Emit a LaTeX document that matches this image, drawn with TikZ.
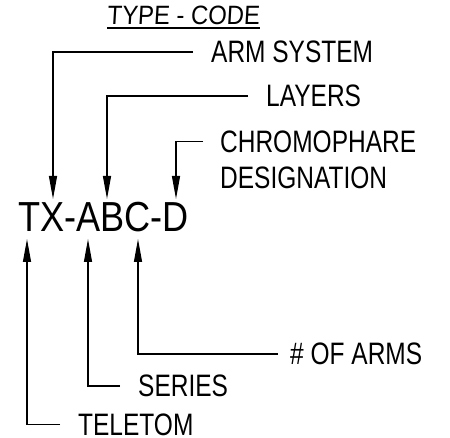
\documentclass[tikz,border=0pt]{standalone}
\usepackage{fontspec}
\usetikzlibrary{arrows.meta}
\newfontfamily\cadfont[FakeStretch=0.79]{Liberation Sans}
\newfontfamily\bigcadfont[FakeStretch=0.86]{Liberation Sans}
\newfontfamily\titlecadfont[FakeStretch=0.9,FakeSlant=0.06]{Liberation Sans}
\tikzset{
  lbl/.style={font=\cadfont\fontsize{31pt}{37pt}\selectfont, anchor=west, inner ysep=0pt, inner xsep=18pt, text depth=0pt},
  arr/.style={-{Triangle[length=23pt,width=8pt]}, line width=1.2pt},
}
\begin{document}
\begin{tikzpicture}[x=1pt,y=-1pt]
\useasboundingbox (0,0) rectangle (450,438);
% title
\node[font=\titlecadfont\fontsize{26.5pt}{30pt}\selectfont, anchor=base west, inner sep=0pt] (title) at (107,25) {TYPE - CODE};
\draw[line width=1.2pt] ([yshift=-3pt]title.base west) -- ([yshift=-3pt]title.base east);
% code
\node[font=\bigcadfont\fontsize{42pt}{46pt}\selectfont, anchor=base west, inner sep=0pt] (code) at (18,232) {TX-ABC-D};
% arrow tip points
\coordinate (tX) at (53,199);
\coordinate (tB) at (107,199);
\coordinate (tD) at (176,199);
\coordinate (tT) at (27,239);
\coordinate (tA) at (88,239);
\coordinate (tC) at (138,239);
% labels
\node[lbl] (arm) at (193,52) {ARM SYSTEM};
\node[lbl] (lay) at (248,96) {LAYERS};
\node[lbl, inner xsep=17pt] (chr) at (203,141.5) {CHROMOPHARE};
\node[lbl, inner xsep=0pt] (des) at (220,178) {DESIGNATION};
\node[lbl, inner xsep=12pt] (num) at (278,354) {\# OF ARMS};
\node[lbl] (ser) at (120,386) {SERIES};
\node[lbl] (tel) at (60,424.5) {TELETOM};
% connectors
\draw[arr] (arm.west) -| (tX);
\draw[arr] (lay.west) -| (tB);
\draw[arr] (chr.west) -| (tD);
\draw[arr] (num.west) -| (tC);
\draw[arr] (ser.west) -| (tA);
\draw[arr] (tel.west) -| (tT);
\end{tikzpicture}
\end{document}
